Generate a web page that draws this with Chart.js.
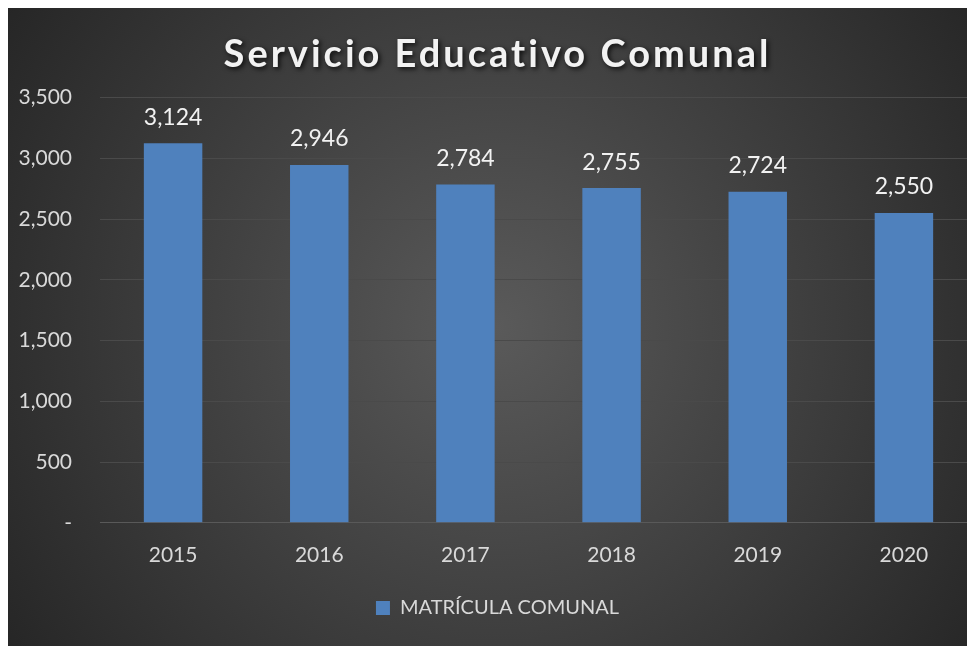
<!DOCTYPE html>
<html>
<head>
<meta charset="utf-8">
<script src="https://cdn.jsdelivr.net/npm/chart.js@4/dist/chart.umd.min.js"></script>
<style>
  html, body { margin: 0; padding: 0; background: #fff; overflow: hidden; }
  #wrap { position: absolute; left: 8px; top: 8px; width: 959px; height: 638px; overflow: hidden; }
  canvas { display: block; }
</style>
</head>
<body>
<div id="wrap"><canvas id="chart" width="977" height="638"></canvas></div>
<script>
const years = ["2015", "2016", "2017", "2018", "2019", "2020"];
const matricula = [3124, 2946, 2784, 2755, 2724, 2550];
const seriesName = "MATRÍCULA COMUNAL";
const chartTitle = "Servicio Educativo Comunal";

const fmt = v => v === 0 ? "-" : v.toLocaleString("en-US");

// dark radial backdrop like the spreadsheet style
const backdrop = {
  id: "backdrop",
  beforeDraw(chart) {
    const { ctx, width, height } = chart;
    const g = ctx.createRadialGradient(width / 2, height / 2, 0, width / 2, height / 2, width * 0.6);
    g.addColorStop(0, "#5a5a5a");
    g.addColorStop(1, "#262626");
    ctx.save();
    ctx.fillStyle = g;
    ctx.fillRect(0, 0, width, height);
    ctx.restore();
  }
};

// value labels above each bar
const barLabels = {
  id: "barLabels",
  afterDatasetsDraw(chart) {
    const ctx = chart.ctx;
    const meta = chart.getDatasetMeta(0);
    ctx.save();
    ctx.font = "23px Lato";
    ctx.fillStyle = "#f2f2f2";
    ctx.textAlign = "center";
    ctx.textBaseline = "middle";
    meta.data.forEach((bar, i) => {
      ctx.fillText(fmt(matricula[i]), bar.x, bar.y - 26);
    });
    ctx.restore();
  }
};

const chart = new Chart(document.getElementById("chart"), {
  type: "bar",
  data: {
    labels: years,
    datasets: [{
      label: seriesName,
      data: matricula,
      backgroundColor: "#4f81bd",
      borderWidth: 0,
      categoryPercentage: 1,
      barPercentage: 0.4
    }]
  },
  options: {
    responsive: false,
    animation: false,
    layout: { padding: { left: 10, right: 8, top: 0, bottom: 18 } },
    plugins: {
      title: {
        display: true,
        text: chartTitle,
        color: "#f2f2f2",
        font: { family: "Lato", size: 38, weight: "bold" },
        padding: { top: 24, bottom: 20 }
      },
      legend: {
        position: "bottom",
        labels: {
          color: "#d9d9d9",
          font: { family: "Lato", size: 20 },
          boxWidth: 14,
          boxHeight: 14,
          padding: 10
        }
      },
      tooltip: { enabled: false }
    },
    scales: {
      x: {
        grid: { display: false, drawTicks: false },
        border: { color: "#595959" },
        ticks: { color: "#d9d9d9", font: { family: "Lato", size: 21 }, padding: 20 }
      },
      y: {
        min: 0,
        max: 3500,
        afterFit: s => { s.width = 82; },
        grid: { color: "#4a4a4a", drawTicks: false },
        border: { display: false },
        ticks: {
          stepSize: 500,
          color: "#d9d9d9",
          font: { family: "Lato", size: 21 },
          padding: 28,
          callback: v => fmt(v)
        }
      }
    }
  },
  plugins: [backdrop, barLabels]
});

// letter spaced title with a soft shadow
const titleDraw = chart.titleBlock.draw;
chart.titleBlock.draw = function () {
  const ctx = this.ctx;
  ctx.save();
  ctx.letterSpacing = "3px";
  ctx.shadowColor = "rgba(0,0,0,0.8)";
  ctx.shadowBlur = 5;
  ctx.shadowOffsetX = 2;
  ctx.shadowOffsetY = 2;
  titleDraw.call(this);
  ctx.restore();
};
chart.draw();
</script>
</body>
</html>
